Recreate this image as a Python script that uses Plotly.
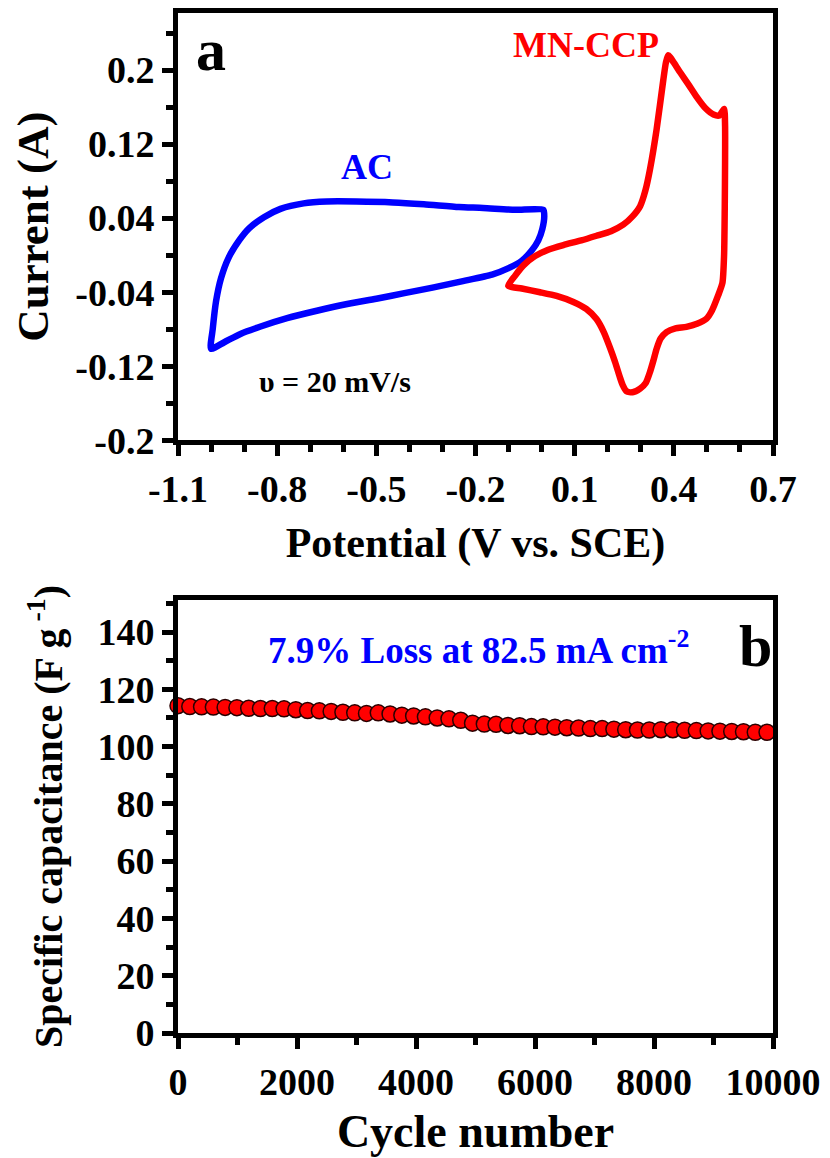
import plotly.graph_objects as go
from plotly.subplots import make_subplots

# ---------------- data: panel a (CV curves) ----------------
ac_potential = [-1.000, -0.995, -0.985, -0.970, -0.946, -0.915, -0.885, -0.840, -0.790, -0.720,
                -0.650, -0.560, -0.450, -0.356, -0.250, -0.177, -0.080, 0.005, 0.008, 0.002,
                -0.010, -0.030, -0.060, -0.100, -0.150, -0.238, -0.330, -0.415, -0.500, -0.592,
                -0.680, -0.770, -0.850, -0.911, -0.960, -1.000]
ac_current = [-0.101, -0.080, -0.050, -0.025, -0.002, 0.016, 0.029, 0.041, 0.050, 0.056,
              0.058, 0.058, 0.057, 0.055, 0.052, 0.051, 0.049, 0.049, 0.042, 0.028,
              0.016, 0.005, -0.006, -0.014, -0.021, -0.028, -0.035, -0.041, -0.047, -0.053,
              -0.060, -0.068, -0.077, -0.085, -0.094, -0.101]

mn_potential = [-0.101, -0.080, -0.055, -0.020, 0.020, 0.066, 0.120, 0.166, 0.210, 0.247,
                0.275, 0.298, 0.314, 0.328, 0.348, 0.368, 0.376, 0.383, 0.400, 0.420,
                0.445, 0.469, 0.495, 0.520, 0.538, 0.552, 0.555, 0.555, 0.554, 0.552,
                0.547, 0.534, 0.515, 0.499, 0.470, 0.438, 0.405, 0.378, 0.360, 0.348,
                0.338, 0.328, 0.315, 0.298, 0.275, 0.257, 0.245, 0.237, 0.222, 0.207,
                0.188, 0.166, 0.135, 0.096, 0.045, -0.005, -0.060, -0.101]
mn_current = [-0.033, -0.022, -0.011, -0.001, 0.006, 0.011, 0.016, 0.021, 0.026, 0.033,
              0.042, 0.053, 0.070, 0.093, 0.136, 0.189, 0.208, 0.216, 0.208, 0.197,
              0.184, 0.171, 0.159, 0.152, 0.151, 0.158, 0.140, 0.100, 0.050, 0.000,
              -0.030, -0.0435, -0.060, -0.0685, -0.074, -0.0774, -0.079, -0.083, -0.090, -0.101,
              -0.114, -0.126, -0.138, -0.144, -0.148, -0.147, -0.140, -0.132, -0.115, -0.100,
              -0.083, -0.069, -0.058, -0.0505, -0.044, -0.040, -0.036, -0.033]

# ---------------- data: panel b (cycling) ----------------
cycles = [0, 198, 396, 594, 792, 990, 1188, 1386, 1584, 1782,
          1980, 2178, 2376, 2574, 2772, 2970, 3168, 3366, 3564, 3762,
          3960, 4158, 4356, 4554, 4752, 4950, 5148, 5346, 5544, 5742,
          5940, 6138, 6336, 6534, 6732, 6930, 7128, 7326, 7524, 7722,
          7920, 8118, 8316, 8514, 8712, 8910, 9108, 9306, 9504, 9702, 9900]
capacitance = [114.3, 114.0, 113.9, 113.8, 113.7, 113.6, 113.4, 113.3, 113.3, 113.2,
               112.9, 112.6, 112.5, 112.3, 112.0, 111.8, 111.6, 111.8, 111.4, 111.0,
               110.7, 110.4, 110.0, 109.7, 109.2, 108.2, 107.9, 107.8, 107.4, 107.3,
               107.0, 106.9, 106.8, 106.6, 106.5, 106.3, 106.3, 106.1, 105.9, 105.8,
               105.8, 105.9, 105.9, 105.7, 105.6, 105.5, 105.4, 105.3, 105.2, 105.0, 105.0]

# ---------------- tick labels ----------------
a_xticks = [-1.1, -0.8, -0.5, -0.2, 0.1, 0.4, 0.7]
a_xlabels = ["-1.1", "-0.8", "-0.5", "-0.2", "0.1", "0.4", "0.7"]
a_yticks = [-0.2, -0.12, -0.04, 0.04, 0.12, 0.2]
a_ylabels = ["-0.2", "-0.12", "-0.04", "0.04", "0.12", "0.2"]
b_xticks = [0, 2000, 4000, 6000, 8000, 10000]
b_xlabels = ["0", "2000", "4000", "6000", "8000", "10000"]
b_yticks = [0, 20, 40, 60, 80, 100, 120, 140]
b_ylabels = ["0", "20", "40", "60", "80", "100", "120", "140"]

FONT = "Liberation Serif, Times New Roman, serif"

fig = make_subplots(rows=2, cols=1, vertical_spacing=0.0)

fig.add_trace(go.Scatter(x=ac_potential, y=ac_current, mode="lines",
                         line=dict(color="#0000FF", width=6.5, shape="spline", smoothing=0.6),
                         showlegend=False), row=1, col=1)
fig.add_trace(go.Scatter(x=mn_potential, y=mn_current, mode="lines",
                         line=dict(color="#FF0000", width=6.5, shape="spline", smoothing=0.6),
                         showlegend=False), row=1, col=1)
fig.add_trace(go.Scatter(x=cycles, y=capacitance, mode="markers",
                         marker=dict(color="#FF0000", size=16, line=dict(color="#2a0000", width=1.5)),
                         showlegend=False, cliponaxis=False), row=2, col=1)

tickfont = dict(family=FONT, size=38, color="black", weight="bold")
axis_common = dict(showline=True, linewidth=5, linecolor="black", mirror=True,
                   ticks="outside", ticklen=11, tickwidth=5, tickcolor="black",
                   showgrid=False, zeroline=False, tickfont=tickfont, automargin=False)

minor_style = dict(ticklen=7, tickwidth=5, tickcolor="black", ticks="outside")

# the page body adds an 8 px offset, so the figure is 822 x 1150
fig.update_layout(
    width=822, height=1150,
    margin=dict(l=170, r=57, t=5, b=125),
    plot_bgcolor="white", paper_bgcolor="white",
    font=dict(family=FONT, color="black"),
    xaxis=dict(domain=[0, 1], range=[-1.1, 0.7], tickvals=a_xticks, ticktext=a_xlabels,
               minor=dict(dtick=0.1, tick0=-1.1, **minor_style),
               title=dict(text="Potential (V vs. SCE)", font=dict(family=FONT, size=42, weight="bold"), standoff=20),
               **axis_common),
    yaxis=dict(domain=[0.581, 1], range=[-0.2, 0.2616], tickvals=a_yticks, ticktext=a_ylabels,
               minor=dict(dtick=0.04, tick0=-0.2, **minor_style),
               title=dict(text="Current (A)", font=dict(family=FONT, size=45, weight="bold"), standoff=15),
               **axis_common),
    xaxis2=dict(domain=[0, 1], range=[0, 10000], tickvals=b_xticks, ticktext=b_xlabels,
                minor=dict(dtick=1000, tick0=0, **minor_style),
                title=dict(text="Cycle number", font=dict(family=FONT, size=46, weight="bold"), standoff=15),
                **axis_common),
    yaxis2=dict(domain=[0, 0.4245], range=[0, 151.2], tickvals=b_yticks, ticktext=b_ylabels,
                minor=dict(dtick=10, tick0=0, **minor_style),
                title=dict(text="Specific capacitance (F g<sup> -1</sup>)", font=dict(family=FONT, size=40, weight="bold"), standoff=24),
                **axis_common),
)

ann_font = lambda size, color: dict(family=FONT, size=size, color=color, weight="bold")
fig.add_annotation(x=-1.0, y=0.222, xref="x", yref="y", text="a", showarrow=False,
                   font=ann_font(60, "black"))
fig.add_annotation(x=0.134, y=0.227, xref="x", yref="y", text="MN-CCP", showarrow=False,
                   font=ann_font(36, "#FF0000"))
fig.add_annotation(x=-0.528, y=0.095, xref="x", yref="y", text="AC", showarrow=False,
                   font=ann_font(36, "#0000FF"))
fig.add_annotation(x=-0.625, y=-0.136, xref="x", yref="y", text="υ = 20 mV/s", showarrow=False,
                   font=ann_font(30, "black"))
fig.add_annotation(x=9698, y=135, xref="x2", yref="y2", text="b", showarrow=False,
                   font=ann_font(60, "black"))
fig.add_annotation(x=5058, y=134.5, xref="x2", yref="y2", text="7.9% Loss at 82.5 mA cm<sup>-2</sup>",
                   showarrow=False, font=ann_font(37, "#0000FF"))

fig.write_html("out.html")
